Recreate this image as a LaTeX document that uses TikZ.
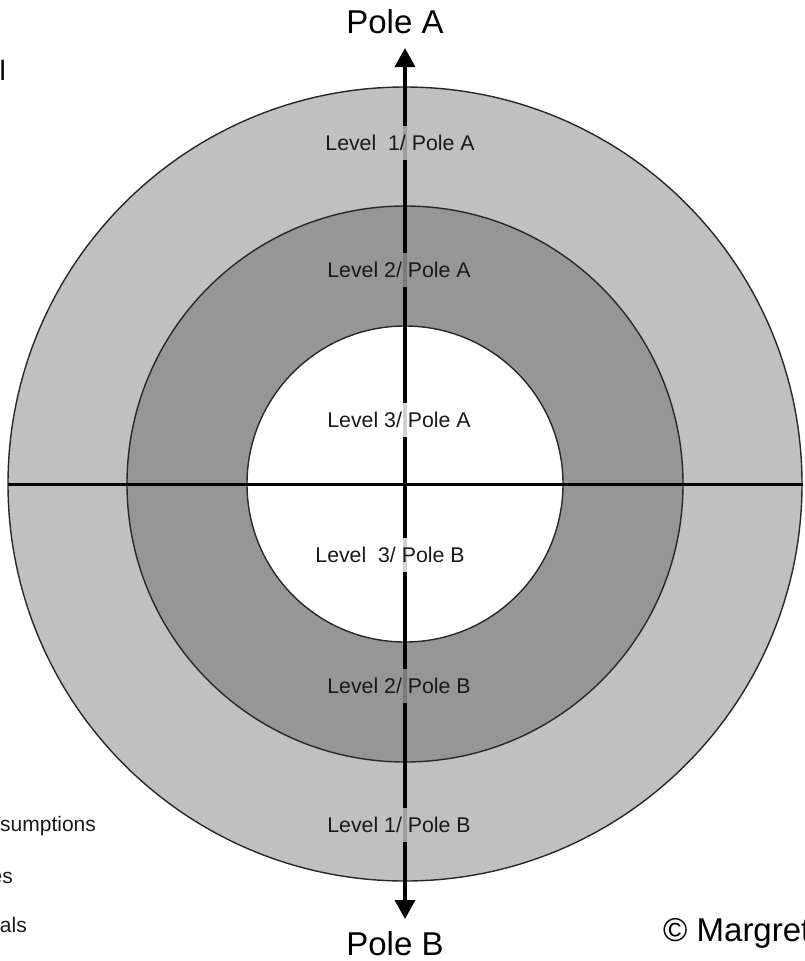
\documentclass[tikz,border=0pt]{standalone}
\usepackage{fontspec}
\setmainfont{Liberation Sans}
\usetikzlibrary{arrows.meta}
\definecolor{ringouter}{RGB}{192,192,192}
\definecolor{ringmid}{RGB}{150,150,150}
\definecolor{outline}{RGB}{40,40,40}
\definecolor{txt}{RGB}{25,25,25}
\tikzset{
  ring/.style={circle, draw=outline, line width=1.4pt, inner sep=0pt, minimum size=#1},
  axis/.style={draw=black, line width=3pt},
  polearrow/.style={draw=black, line width=3.6pt, {Triangle[width=20pt,length=19pt]}-{Triangle[width=20pt,length=19pt]}},
  lvl/.style={text=txt, font=\fontsize{21.3}{25}\selectfont, inner xsep=2pt, inner ysep=9pt, fill opacity=0.82, text opacity=1},
  polelbl/.style={text=black, font=\fontsize{33}{38}\selectfont, inner sep=0pt},
  sidelbl/.style={text=txt, font=\fontsize{21}{25}\selectfont, inner sep=0pt, anchor=east},
}
\begin{document}
\begin{tikzpicture}[x=1pt,y=-1pt]
\useasboundingbox (0,0) rectangle (805,961);
\clip (0,0) rectangle (805,961);
\coordinate (C) at (405,484);
\node[ring=794pt, fill=ringouter] (outer) at (C) {};
\node[ring=556pt, fill=ringmid] (mid) at (C) {};
\node[ring=316pt, fill=white] (inner) at (C) {};
\coordinate (L) at (8,484);
\coordinate (R) at (803,484);
\coordinate (T) at (405,48);
\coordinate (B) at (405,919);
\draw[axis] (L) -- (R);
\draw[polearrow] (T) -- (B);
\node[lvl, fill=ringouter] (l1a) at (400,143) {Level\ \ 1/ Pole A};
\node[lvl, fill=ringmid] (l2a) at (399,270) {Level 2/ Pole A};
\node[lvl, fill=white] (l3a) at (399,420) {Level 3/ Pole A};
\node[lvl, fill=white] (l3b) at (390,555) {Level\ \ 3/ Pole B};
\node[lvl, fill=ringmid] (l2b) at (399,686) {Level 2/ Pole B};
\node[lvl, fill=ringouter] (l1b) at (399,825) {Level 1/ Pole B};
\node[polelbl] (pa) at (395,22) {Pole A};
\node[polelbl] (pb) at (395,944) {Pole B};
\node[polelbl, anchor=west] (copy) at (663,933) {© Margret};
\node[text=black, font=\fontsize{28}{32}\selectfont, inner sep=0pt, anchor=east] (topl) at (6,70) {l};
\node[sidelbl, anchor=west] (s1) at (0,826) {sumptions};
\node[sidelbl] (s2) at (13,878) {es};
\node[sidelbl] (s3) at (27,925) {als};
\end{tikzpicture}
\end{document}
